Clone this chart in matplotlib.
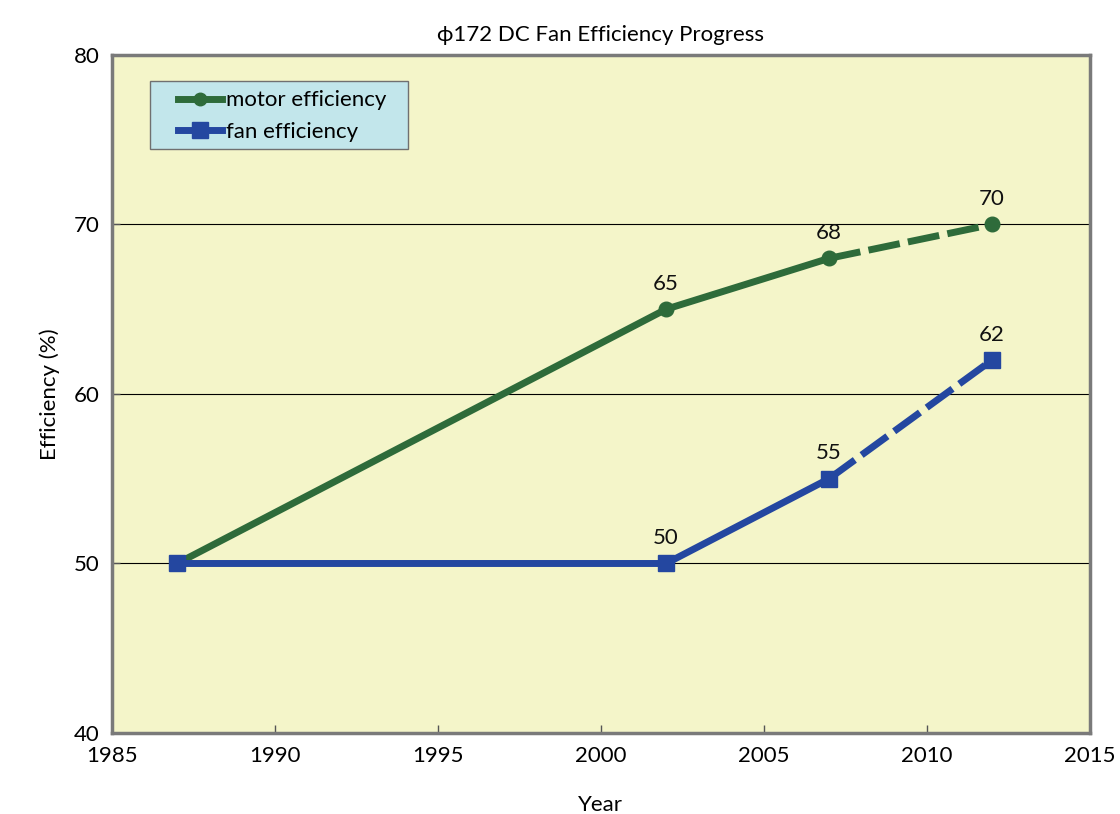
import matplotlib
matplotlib.use("Agg")
import matplotlib.pyplot as plt
from matplotlib.lines import Line2D
from matplotlib.patches import Rectangle
from matplotlib.legend_handler import HandlerLine2D

plt.rcParams['font.family'] = ['Lato', 'DejaVu Sans']

years = [1987, 2002, 2007, 2012]
motor = [50, 65, 68, 70]
fan = [50, 50, 55, 62]
motor_labels_idx = [1, 2, 3]
fan_labels_idx = [1, 2, 3]
series_names = ['motor efficiency', 'fan efficiency']
xticks = [1985, 1990, 1995, 2000, 2005, 2010, 2015]
yticks = [40, 50, 60, 70, 80]

green = '#2E6B3A'
blue = '#2447A0'

fig = plt.figure(figsize=(11.2, 8.14), dpi=100)
ax = fig.add_axes([0.1, 0.0995, 0.873, 0.833])
ax.set_facecolor('#F4F5C9')

lw = 5
dash = (4.6, 1.2)
ax.plot(years[:3], motor[:3], color=green, lw=lw, solid_capstyle='butt', zorder=3)
ax.plot(years[2:], motor[2:], color=green, lw=lw, dashes=dash, zorder=3)
ax.plot(years, motor, ls='none', marker='o', ms=10.5, color=green, zorder=4)

ax.plot(years[:3], fan[:3], color=blue, lw=lw, solid_capstyle='butt', zorder=3)
ax.plot(years[2:], fan[2:], color=blue, lw=lw, dashes=dash, zorder=3)
ax.plot(years, fan, ls='none', marker='s', ms=11.5, color=blue, zorder=4)

for i in motor_labels_idx:
    ax.annotate(str(motor[i]), (years[i], motor[i]), xytext=(0, 11),
                textcoords='offset points', ha='center', va='bottom', fontsize=16, color='#111111')
for i in fan_labels_idx:
    ax.annotate(str(fan[i]), (years[i], fan[i]), xytext=(0, 11),
                textcoords='offset points', ha='center', va='bottom', fontsize=16, color='#111111')

ax.set_xlim(1985, 2015)
ax.set_ylim(40, 80)
ax.set_xticks(xticks)
ax.set_yticks(yticks)
ax.yaxis.grid(True, color='black', lw=0.8)
ax.set_axisbelow(True)
ax.tick_params(direction='in', length=6, width=1, color='#555555', labelsize=16, pad=9)
for s in ax.spines.values():
    s.set_color('#7A7A7A')
    s.set_linewidth(2.5)

ax.set_xlabel('Year', fontsize=16, labelpad=21)
ax.set_ylabel('Efficiency (%)', fontsize=16, labelpad=10)
ax.set_title('\u03d5172 DC Fan Efficiency Progress', fontsize=16, pad=10)


class ShiftHandler(HandlerLine2D):
    def get_xdata(self, legend, xdescent, ydescent, width, height, fontsize):
        x0 = -xdescent
        x1 = -xdescent + width
        return [x0, x1], [(x0 + x1) / 2]


# legend background box
ax.add_patch(Rectangle((0.0389, 0.8614), 0.2638, 0.1003, transform=ax.transAxes,
                       facecolor='#C2E6EB', edgecolor='#707070', lw=1, zorder=5))

handles = [Line2D([], [], color=green, lw=lw, marker='o', ms=9),
           Line2D([], [], color=blue, lw=lw, marker='s', ms=11)]
leg = ax.legend(handles, series_names, loc='upper left',
                bbox_to_anchor=(0.0675, 0.9476), fontsize=16, frameon=False,
                handlelength=2.0, handletextpad=0.15, borderpad=0.0, borderaxespad=0.0,
                labelspacing=0.5, handler_map={Line2D: ShiftHandler()})
leg.set_zorder(6)

fig.savefig('out.png', dpi=100)
